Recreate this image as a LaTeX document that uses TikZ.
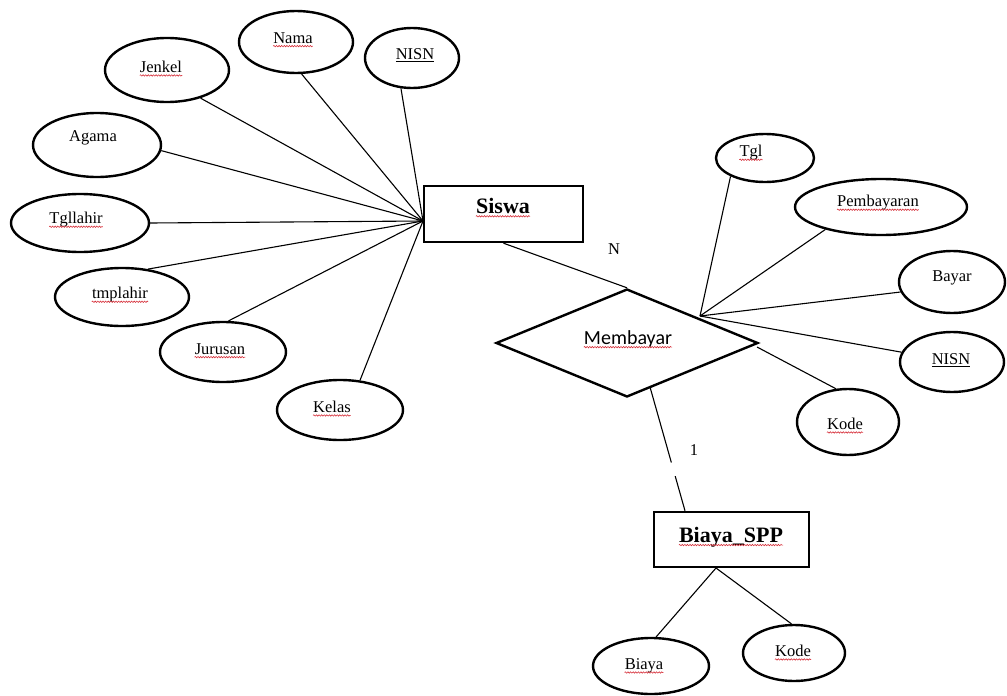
\documentclass[tikz,border=0pt]{standalone}
\usepackage{fontspec}
\setmainfont{Liberation Serif}
\newfontfamily\calibrifont{Carlito}
\usetikzlibrary{shapes.geometric,decorations.pathmorphing,calc}
\definecolor{wavered}{RGB}{214,48,58}
\begin{document}
\begin{tikzpicture}[x=1pt,y=-1pt,
  attr/.style={draw, ellipse, line width=2.4pt, inner sep=0pt},
  entity/.style={draw, rectangle, line width=2.4pt, minimum width=159pt, minimum height=56pt, inner sep=0pt},
  rel/.style={draw, diamond, line width=2.4pt, minimum width=262pt, minimum height=108pt, inner sep=0pt, aspect=2.43},
  lbl/.style={inner sep=0pt, font=\fontsize{16.5}{19}\selectfont},
  enttext/.style={inner sep=0pt, font=\fontsize{22}{26}\selectfont\bfseries},
  reltext/.style={inner sep=0pt, font=\calibrifont\fontsize{20}{24}\selectfont},
  conn/.style={line width=1.1pt},
  wave/.style={draw=wavered, line width=0.6pt, decorate,
    decoration={snake, amplitude=0.7pt, segment length=2.6pt}}]
\path[use as bounding box] (0,0) rectangle (1007,696);

% entities and relationship
\node[entity] (siswa) at (503.5,214) {};
\node[enttext] (siswa-t) at (503,206) {Siswa};
\node[rel] (membayar) at (627,343) {};
\node[reltext] (membayar-t) at (628,339) {Membayar};
\node[entity, minimum width=155pt, minimum height=55pt] (bspp) at (731.5,539.5) {};
\node[enttext] (bspp-t) at (731,537) {Biaya\_SPP};

% attributes of Siswa
\node[attr, minimum width=114pt, minimum height=62pt] (nama) at (296,42) {};
\node[lbl] (nama-t) at (293,38) {Nama};
\node[attr, minimum width=94pt, minimum height=60pt] (nisn1) at (412,58) {};
\node[lbl] (nisn1-t) at (415,55) {\underline{NISN}};
\node[attr, minimum width=124pt, minimum height=64pt] (jenkel) at (167,70) {};
\node[lbl] (jenkel-t) at (161,67) {Jenkel};
\node[attr, minimum width=128pt, minimum height=64pt] (agama) at (97,145) {};
\node[lbl] (agama-t) at (93,138) {Agama};
\node[attr, minimum width=138pt, minimum height=58pt] (tgllahir) at (80,223) {};
\node[lbl] (tgllahir-t) at (76,220) {Tgllahir};
\node[attr, minimum width=134pt, minimum height=58pt] (tmplahir) at (122,297) {};
\node[lbl] (tmplahir-t) at (120,295) {tmplahir};
\node[attr, minimum width=126pt, minimum height=60pt] (jurusan) at (223,352) {};
\node[lbl] (jurusan-t) at (220,349) {Jurusan};
\node[attr, minimum width=126pt, minimum height=60pt] (kelas) at (340,410) {};
\node[lbl] (kelas-t) at (332,407) {Kelas};

% attributes of Membayar
\node[attr, minimum width=98pt, minimum height=48pt] (tgl) at (765,158) {};
\node[lbl] (tgl-t) at (751,153) {Tgl};
\node[attr, minimum width=172pt, minimum height=56pt] (pemb) at (881,207) {};
\node[lbl] (pemb-t) at (878,203) {Pembayaran};
\node[attr, minimum width=106pt, minimum height=62pt] (bayar) at (952,282) {};
\node[lbl] (bayar-t) at (952,278) {Bayar};
\node[attr, minimum width=104pt, minimum height=60pt] (nisn2) at (952,362) {};
\node[lbl] (nisn2-t) at (951,360) {\underline{NISN}};
\node[attr, minimum width=102pt, minimum height=66pt] (kode1) at (848,422) {};
\node[lbl] (kode1-t) at (845,424) {Kode};

% attributes of Biaya_SPP
\node[attr, minimum width=116pt, minimum height=56pt] (biaya) at (651,666) {};
\node[lbl] (biaya-t) at (644,666) {Biaya};
\node[attr, minimum width=102pt, minimum height=56pt] (kode2) at (794,653) {};
\node[lbl] (kode2-t) at (793,651) {Kode};

% cardinalities
\node[lbl] (card-n) at (614,249) {N};
\node[lbl] (card-1) at (694,450) {1};

% connector hubs
\coordinate (hubL) at (423,221);
\coordinate (hubR) at (700,316);
\coordinate (hubB) at (716,568);
\coordinate (m1) at (650,387);
\coordinate (m2) at (757,347);
\coordinate (b1) at ([xshift=-46.5pt]bspp.north);

% connectors
\draw[conn] (nama.-80) -- (hubL);
\draw[conn] (nisn1.-110) -- (hubL);
\draw[conn] (jenkel.-40) -- (hubL);
\draw[conn] (agama.-5) -- (hubL);
\draw[conn] (tgllahir.east) -- (hubL);
\draw[conn] (tmplahir.47) -- (hubL);
\draw[conn] (jurusan.80) -- (hubL);
\draw[conn] (kelas.56) -- (hubL);

\draw[conn] (siswa.south) -- (membayar.north);

\draw[conn] (tgl.-152) -- (hubR);
\draw[conn] (pemb.-158) -- (hubR);
\draw[conn] (bayar.-169) -- (hubR);
\draw[conn] (nisn2.169) -- (hubR);
\draw[conn] (m2) -- (kode1.110);

\draw[conn] (m1) -- ($(m1)!0.61!(b1)$) ($(m1)!0.72!(b1)$) -- (b1);

\draw[conn] (hubB) -- (biaya.80);
\draw[conn] (hubB) -- (kode2.95);

% spelling marks under the words
\foreach \w in {siswa-t, membayar-t, bspp-t, nama-t, jenkel-t, tgllahir-t,
  tmplahir-t, jurusan-t, kelas-t, tgl-t, pemb-t, kode1-t, biaya-t, kode2-t}
  \draw[wave] ([yshift=-2.8pt]\w.base west) -- ([yshift=-2.8pt]\w.base east);
\end{tikzpicture}
\end{document}
